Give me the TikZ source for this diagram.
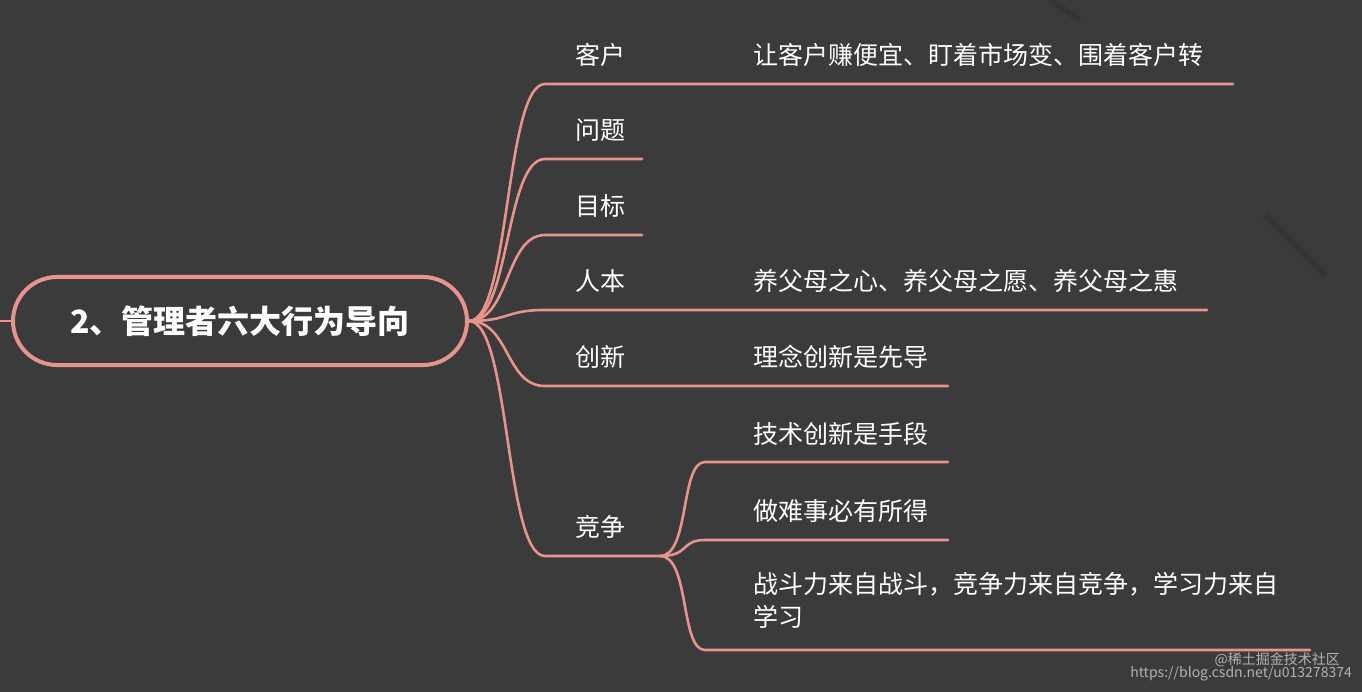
\documentclass[tikz,border=0pt]{standalone}
\usepackage{fontspec}
\newfontfamily\cjk{Noto Sans CJK SC}
\definecolor{bg}{HTML}{3B3B3B}
\definecolor{ln}{HTML}{E8938C}
\begin{document}
\begin{tikzpicture}[x=1pt,y=-1pt,
  br/.style={draw=ln,line width=2.6pt,line cap=round},
  lab/.style={anchor=west,text=white,font=\cjk\fontsize{25}{33}\selectfont,inner sep=0pt},
  wm/.style={anchor=east,text=gray!60,font=\cjk\fontsize{14}{16}\selectfont,inner sep=0pt}]
\fill[bg] (0,0) rectangle (1362,692);
\useasboundingbox (0,0) rectangle (1362,692);
\draw[black!12!bg,line width=6pt] (1050,0) -- (1080,20);
\draw[black!12!bg,line width=6pt] (1265,215) -- (1325,275);
\node[draw=ln,line width=4pt,rounded corners=44pt,minimum width=454pt,minimum height=88pt,text=white,font=\cjk\bfseries\fontsize{32}{36}\selectfont] (root) at (240,321) {2、管理者六大行为导向};
\draw[br] (0,321) -- (root.west);
\coordinate (r) at (root.east);
\foreach \n/\y/\e/\t in {a/84/1233/客户,b/159/642/问题,c/235/642/目标,d/310/1207/人本,e/386/948/创新,f/556/660/竞争}{
  \coordinate (\n s) at (545,\y);
  \coordinate (\n e) at (\e,\y);
  \draw[br] (r) .. controls (510,321) and (505,\y) .. (\n s) -- (\n e);
  \node[lab] (\n t) at (575,\y-29) {\t};
}
\node[lab] (at2) at (753,55) {让客户赚便宜、盯着市场变、围着客户转};
\node[lab] (dt2) at (753,281) {养父母之心、养父母之愿、养父母之惠};
\node[lab] (et2) at (753,357) {理念创新是先导};
\foreach \n/\y/\e in {g/462/948,h/540/948,i/650/1310}{
  \coordinate (\n s) at (705,\y);
  \coordinate (\n e) at (\e,\y);
  \draw[br] (fe) .. controls (690,556) and (680,\y) .. (\n s) -- (\n e);
}
\node[lab] (gt) at (753,434) {技术创新是手段};
\node[lab] (ht) at (753,511) {做难事必有所得};
\node[lab,align=left,anchor=north west] (it) at (753,572) {战斗力来自战斗，竞争力来自竞争，学习力来自\\学习};
\node[wm] (w1) at (1340,660) {@稀土掘金技术社区};
\node[wm] (w2) at (1352,674) {https://blog.csdn.net/u013278374};
\end{tikzpicture}
\end{document}
